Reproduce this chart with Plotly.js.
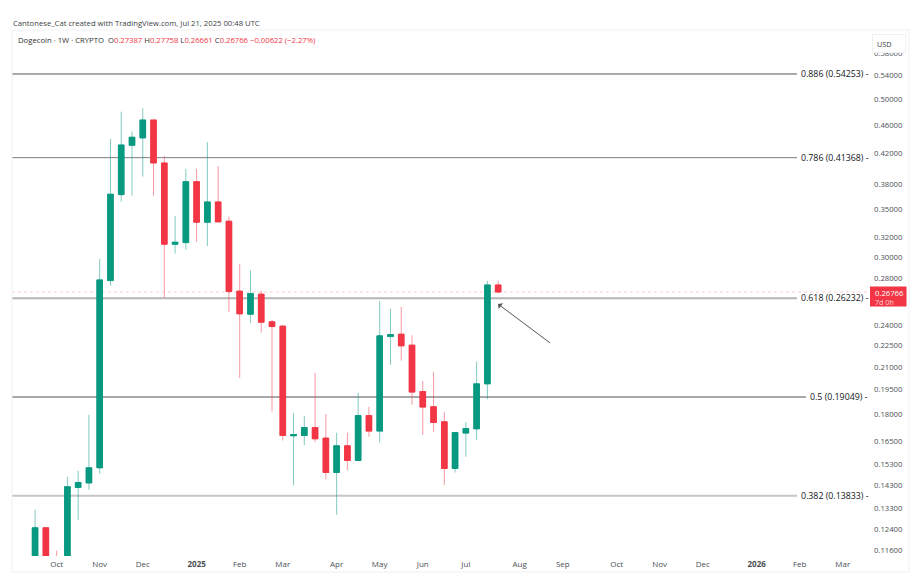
<!DOCTYPE html>
<html><head><meta charset="utf-8">
<script src="https://cdn.plot.ly/plotly-3.0.1.min.js"></script>
<style>html,body{margin:0;padding:0;background:#fff}#c{width:921px;height:583px}</style></head>
<body><div id="c"></div>
<script>
const dates=["2024-09-23","2024-09-30","2024-10-07","2024-10-14","2024-10-21","2024-10-28","2024-11-04","2024-11-11","2024-11-18","2024-11-25","2024-12-02","2024-12-09","2024-12-16","2024-12-23","2024-12-30","2025-01-06","2025-01-13","2025-01-20","2025-01-27","2025-02-03","2025-02-10","2025-02-17","2025-02-24","2025-03-03","2025-03-10","2025-03-17","2025-03-24","2025-03-31","2025-04-07","2025-04-14","2025-04-21","2025-04-28","2025-05-05","2025-05-12","2025-05-19","2025-05-26","2025-06-02","2025-06-09","2025-06-16","2025-06-23","2025-06-30","2025-07-07","2025-07-14","2025-07-21"];
const opens=[.1070,.1247,.1090,.1060,.14209,.1442,.15145,.27778,.36700,.43063,.4410,.46743,.40666,.31253,.31415,.38276,.33561,.35841,.33670,.26841,.24915,.26582,.24300,.23965,.16798,.16815,.17256,.16674,.14916,.16263,.15507,.17940,.17056,.23171,.23351,.22534,.19390,.18453,.17578,.15111,.16946,.17183,.19879,.27387];
const highs=[.13219,.1250,.11580,.14710,.14998,.17981,.29800,.43953,.48017,.45004,.48548,.46743,.41599,.34253,.39884,.39884,.43486,.40235,.34175,.29321,.28728,.26867,.24459,.24066,.18080,.17923,.20601,.18022,.16963,.16963,.19309,.18453,.25986,.25346,.25510,.23276,.20054,.20668,.18139,.17017,.17560,.21369,.27758,.27758];
const lows=[.1050,.1040,.1000,.1050,.12798,.14103,.14854,.27332,.35876,.36580,.38902,.3658,.26291,.30316,.30711,.31486,.31081,.33594,.25077,.20250,.24222,.23473,.18174,.16545,.14301,.16300,.16459,.14582,.13007,.15032,.15507,.16744,.16438,.21142,.21438,.18573,.16853,.17017,.14319,.14916,.15694,.16582,.18918,.26661];
const closes=[.1247,.1050,.1060,.14241,.14441,.15145,.27841,.36746,.43108,.44195,.46743,.40666,.31253,.31456,.38276,.33561,.35841,.33594,.26806,.24939,.26633,.24277,.23934,.16815,.16869,.17256,.16636,.14916,.16263,.15507,.17940,.17056,.23223,.23321,.22483,.19353,.18435,.17538,.15111,.16979,.17200,.19879,.27387,.26766];

const fibRatios=["0.886","0.786","0.618","0.5","0.382"];
const fibPrices=[0.54253,0.41368,0.26232,0.19049,0.13833];
const priceTicks=[0.58,0.54,0.50,0.46,0.42,0.38,0.35,0.32,0.30,0.28,0.24,0.225,0.21,0.195,0.18,0.165,0.153,0.143,0.133,0.124,0.116];
const timeTickVals=["2024-10-07","2024-11-04","2024-12-02","2025-01-06","2025-02-03","2025-03-03","2025-04-07","2025-05-05","2025-06-02","2025-06-30","2025-08-04","2025-09-01","2025-10-06","2025-11-03","2025-12-01","2026-01-05","2026-02-02","2026-03-02"];
const timeTickText=["Oct","Nov","Dec","<b>2025</b>","Feb","Mar","Apr","May","Jun","Jul","Aug","Sep","Oct","Nov","Dec","<b>2026</b>","Feb","Mar"];
const lastPrice=0.26766;

const UP="#089981",DOWN="#f23645";
const FONT='"Open Sans","Noto Sans",sans-serif';
const L=12,R=871,T=30,B=556;
const px=x=>(x-L)/(R-L), py=y=>(B-y)/(B-T);

const fibStyle=[["#505357",1,797],["#7c7f82",1,797],["#b4b4b4",2,797],["#505357",1,806],["#c6c6c6",2,797]];
const fibLabelX=[799,799,799,808,799];

const traces=[
 {type:"candlestick",x:dates,open:opens,high:highs,low:lows,close:closes,whiskerwidth:0,hoverinfo:"skip",showlegend:false,
  increasing:{line:{color:"rgba(8,153,129,0.5)",width:1},fillcolor:UP},
  decreasing:{line:{color:"rgba(242,54,69,0.5)",width:1},fillcolor:DOWN}},
 {type:"candlestick",x:dates,open:opens,close:closes,
  high:opens.map((o,i)=>Math.max(o,closes[i])),low:opens.map((o,i)=>Math.min(o,closes[i])),
  whiskerwidth:0,hoverinfo:"skip",showlegend:false,
  increasing:{line:{color:UP,width:0.8},fillcolor:UP},
  decreasing:{line:{color:DOWN,width:0.8},fillcolor:DOWN}}
];

const shapes=[];
fibPrices.forEach((p,i)=>{
 const s=fibStyle[i];
 shapes.push({type:"line",xref:"paper",yref:"y",x0:0,x1:px(s[2]),y0:p,y1:p,layer:"below",line:{color:s[0],width:s[1]}});
});
shapes.push({type:"line",xref:"paper",yref:"y",x0:0,x1:px(870),y0:lastPrice,y1:lastPrice,layer:"below",line:{color:"#f9d0d3",width:1,dash:"dot"}});
shapes.push({type:"rect",xref:"paper",yref:"paper",x0:0,x1:px(909),y0:py(572),y1:py(T),line:{color:"#f0f1f3",width:1},fillcolor:"rgba(0,0,0,0)",layer:"below"});
shapes.push({type:"rect",xref:"paper",yref:"paper",x0:px(870),x1:px(906.5),y0:py(306.5),y1:py(286.5),line:{width:0},fillcolor:DOWN,layer:"above"});

const annotations=[];
const txt=(x,y,text,opts={})=>Object.assign({xref:"paper",yref:"paper",x:px(x),y:py(y),text,showarrow:false,xanchor:"left",yanchor:"middle",font:{family:FONT,size:9.5,color:"#333"},borderpad:0},opts);
fibPrices.forEach((p,i)=>{
 annotations.push({xref:"paper",yref:"y",x:px(fibLabelX[i]),y:Math.log10(p),text:fibRatios[i]+" ("+p.toFixed(5)+") -",showarrow:false,xanchor:"left",yanchor:"middle",font:{family:FONT,size:8.8,color:"#131619"}});
});
annotations.push(txt(12,23,"Cantonese_Cat created with TradingView.com, Jul 21, 2025 00:48 UTC",{font:{family:FONT,size:7.7,color:"#3c3f45"}}));
const r=s=>'<span style="color:'+DOWN+'">'+s+'</span>';
annotations.push(txt(17,40.5,"Dogecoin · 1W · CRYPTO  O"+r("0.27387")+" H"+r("0.27758")+" L"+r("0.26661")+" C"+r("0.26766")+" "+r("−0.00622 (−2.27%)"),{font:{family:FONT,size:7.7,color:"#333"}}));
annotations.push({xref:"paper",yref:"paper",x:px(872.5),y:py(33.5),text:"USD",showarrow:false,xanchor:"left",yanchor:"top",align:"left",width:24,height:9,borderpad:4,bgcolor:"#fff",bordercolor:"#f0f1f3",borderwidth:1,font:{family:FONT,size:7.2,color:"#3c3f45"}});
annotations.push(txt(874,292.5,"0.26766",{font:{family:FONT,size:7.7,color:"#fff"}}));
annotations.push(txt(874,301.5,"7d 0h",{font:{family:FONT,size:7.2,color:"#fbd5d8"}}));
annotations.push({xref:"paper",yref:"paper",axref:"pixel",ayref:"pixel",x:px(498),y:py(304),ax:53.5,ay:40,text:"",showarrow:true,arrowhead:1,arrowsize:1.2,arrowwidth:1,arrowcolor:"#555",standoff:0});

const layout={
 width:921,height:583,margin:{l:L,r:921-R,t:T,b:583-B,pad:0},boxgap:0.25,
 paper_bgcolor:"#fff",plot_bgcolor:"#fff",showlegend:false,font:{family:FONT,size:9,color:"#555"},
 xaxis:{type:"date",range:["2024-09-08 00:00","2026-03-20 08:00"],tickmode:"array",tickvals:timeTickVals,ticktext:timeTickText,
  tickfont:{family:FONT,size:8,color:"#4c4f55"},ticklabelstandoff:2,showgrid:false,zeroline:false,showline:false,ticks:"",rangeslider:{visible:false},fixedrange:true},
 yaxis:{type:"log",side:"right",range:[Math.log10(0.1138),Math.log10(0.6256)],tickmode:"array",tickvals:priceTicks,ticktext:priceTicks.map(v=>v.toFixed(5)),
  tickfont:{family:FONT,size:7.7,color:"#4c4f55"},ticklabelstandoff:2,showgrid:false,zeroline:false,showline:false,ticks:"",fixedrange:true},
 shapes,annotations
};
Plotly.newPlot("c",traces,layout,{displayModeBar:false,staticPlot:true});
</script></body></html>
